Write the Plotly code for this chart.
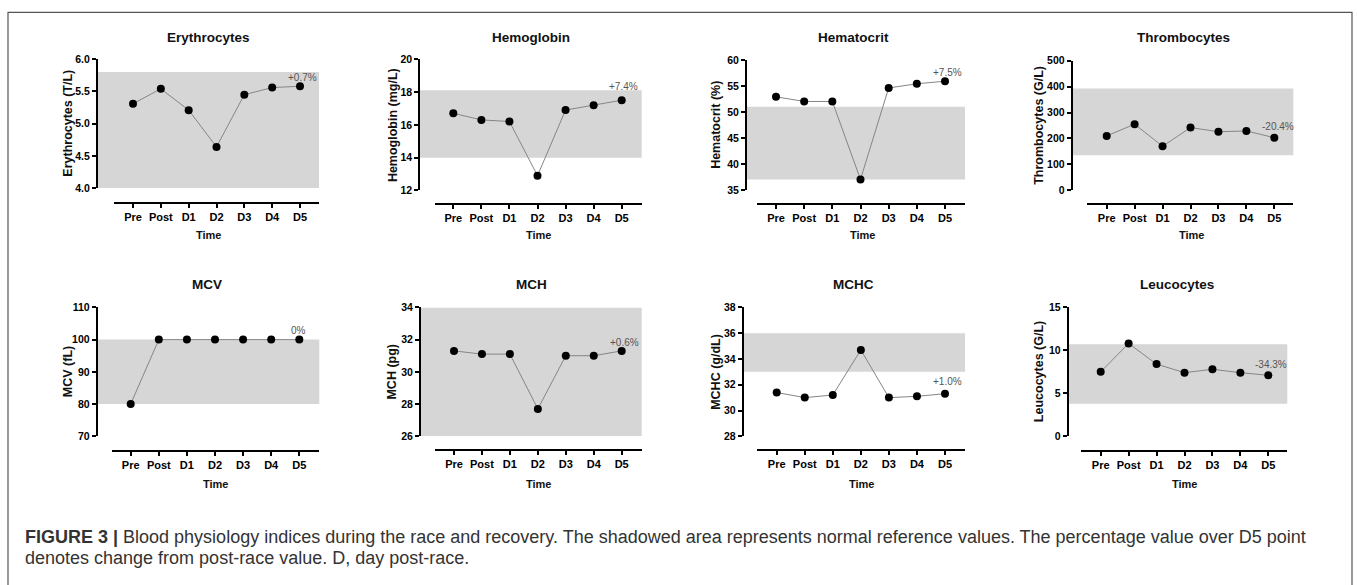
import plotly.graph_objects as go

# ---------------- data ----------------
categories = ["Pre", "Post", "D1", "D2", "D3", "D4", "D5"]

erythrocytes = [5.31, 5.54, 5.21, 4.64, 5.45, 5.56, 5.58]
hemoglobin = [16.7, 16.3, 16.2, 12.9, 16.9, 17.2, 17.5]
hematocrit = [52.9, 52.0, 52.0, 37.0, 54.6, 55.4, 55.9]
thrombocytes = [210, 255, 170, 242, 226, 229, 203]
mcv = [80, 100, 100, 100, 100, 100, 100]
mch = [31.3, 31.1, 31.1, 27.7, 31.0, 31.0, 31.3]
mchc = [31.4, 31.0, 31.2, 34.7, 31.0, 31.1, 31.3]
leucocytes = [7.5, 10.8, 8.4, 7.4, 7.8, 7.4, 7.1]

panel_titles = ["Erythrocytes", "Hemoglobin", "Hematocrit", "Thrombocytes",
                "MCV", "MCH", "MCHC", "Leucocytes"]
y_titles = ["Erythrocytes (T/L)", "Hemoglobin (mg/L)", "Hematocrit (%)", "Thrombocytes (G/L)",
            "MCV (fL)", "MCH (pg)", "MCHC (g/dL)", "Leucocytes (G/L)"]
series = [erythrocytes, hemoglobin, hematocrit, thrombocytes, mcv, mch, mchc, leucocytes]
ref_low = [4.0, 14.0, 37, 135, 80, 26, 33, 3.8]
ref_high = [5.8, 18.1, 51, 392, 100, 34, 36, 10.7]
y_min = [4.0, 12, 35, 0, 70, 26, 28, 0]
y_max = [6.0, 20, 60, 500, 110, 34, 38, 15]
y_step = [0.5, 2, 5, 100, 10, 2, 2, 5]
y_fmt = [".1f", "d", "d", "d", "d", "d", "d", "d"]
d5_change = ["+0.7%", "+7.4%", "+7.5%", "-20.4%", "0%", "+0.6%", "+1.0%", "-34.3%"]
x_title = "Time"
caption_lines = [
    "<b>FIGURE 3 |</b> Blood physiology indices during the race and recovery. "
    "The shadowed area represents normal reference values. The percentage value over D5 point",
    "denotes change from post-race value. D, day post-race.",
]

# ---------------- layout geometry (pixels) ----------------
W, H = 1357, 585
yax_x = [97, 419.3, 746, 1071.7, 96.7, 420, 742.7, 1067.7]
y_top_px = [54.3, 54.3, 55, 55.7, 307.7, 307.7, 307.7, 307.7]
y_bot_px = [186, 188.3, 187.7, 188.3, 439.3, 439.3, 439.3, 439.3]
xax_y = [200.7, 201.7, 201.7, 202.3, 454, 453.3, 453.3, 454]
xax_start = [114, 435, 757.3, 1087.3, 111.7, 435, 757.3, 1081]
xax_end = [319, 641.7, 965, 1293.3, 319.3, 641.7, 965, 1287.3]
pre_px = [133, 453.3, 776, 1106.7, 130.7, 454, 776.7, 1100.7]
d5_px = [300, 621.7, 945, 1274.3, 299.3, 621.7, 945, 1268.3]
title_x = [208, 530.7, 853.8, 1183.5, 207, 531.7, 853.3, 1177]
title_y = [32.5, 32.5, 32.5, 32.5, 284, 284, 284, 284]
time_x = [208.8, 538, 862.5, 1191.3, 215, 538.8, 861.7, 1184.7]
time_y = [234, 234, 234, 234, 487.7, 487.7, 487.7, 487.7]
ytitle_x = [68, 393.3, 716, 1039.3, 68.3, 391.7, 716, 1039.3]
pct_shift_y = [8.7, 14, 9, 11, 9.6, 8.7, 12, 11]
pct_shift_x = [2, 2, 3, 3.5, -0.5, 2.6, 3, 2.4]
caption_y = [542.5, 564]

FONT = "Liberation Sans, Arial, Helvetica, sans-serif"


def px(v):
    return v / W


def py(v):
    return 1 - v / H


fig = go.Figure()
layout = dict(
    width=W, height=H,
    margin=dict(l=0, r=0, t=0, b=0),
    paper_bgcolor="white", plot_bgcolor="rgba(0,0,0,0)",
    showlegend=False,
    font=dict(family=FONT, color="#000"),
)
shapes = []
annotations = []

for i in range(8):
    n = i + 1
    xa = "x" if n == 1 else f"x{n}"
    ya = "y" if n == 1 else f"y{n}"
    unit = (d5_px[i] - pre_px[i]) / 6
    xlo = -(pre_px[i] - xax_start[i]) / unit
    xhi = 6 + (xax_end[i] - d5_px[i]) / unit

    fig.add_trace(go.Scatter(
        x=categories, y=series[i], xaxis=xa, yaxis=ya,
        mode="lines+markers",
        line=dict(color="#858585", width=1),
        marker=dict(color="#000", size=8),
        cliponaxis=False, hoverinfo="skip",
    ))

    yticks = []
    v = y_min[i]
    while v <= y_max[i] + 1e-9:
        yticks.append(round(v, 6))
        v += y_step[i]

    layout[f"xaxis{'' if n == 1 else n}"] = dict(
        domain=[px(xax_start[i]), px(xax_end[i])],
        anchor="free", position=py(xax_y[i]), side="bottom",
        type="category", categoryorder="array", categoryarray=categories,
        range=[xlo, xhi],
        showline=True, linecolor="#000", linewidth=2,
        ticks="outside", ticklen=4, tickwidth=1.5, tickcolor="#000",
        showgrid=False, zeroline=False, fixedrange=True,
        tickfont=dict(size=11, family=FONT, weight="bold", color="#000"),
    )
    layout[f"yaxis{'' if n == 1 else n}"] = dict(
        domain=[py(y_bot_px[i]), py(y_top_px[i])],
        anchor="free", position=px(yax_x[i]), side="left",
        range=[y_min[i], y_max[i]],
        tickmode="array", tickvals=yticks,
        ticktext=[format(t, y_fmt[i]) if y_fmt[i] != "d" else str(int(round(t))) for t in yticks],
        showline=True, linecolor="#000", linewidth=2,
        ticks="outside", ticklen=4, tickwidth=1.5, tickcolor="#000",
        showgrid=False, zeroline=False, fixedrange=True,
        tickfont=dict(size=10.5, family=FONT, weight="bold", color="#000"),
    )

    # reference band
    shapes.append(dict(
        type="rect", xref="paper", yref=ya,
        x0=px(yax_x[i]), x1=px(xax_end[i]),
        y0=ref_low[i], y1=ref_high[i],
        fillcolor="#d6d6d6", line=dict(width=0), layer="below",
    ))

    # panel title
    annotations.append(dict(
        text=f"<b>{panel_titles[i]}</b>", x=px(title_x[i]), y=py(title_y[i]),
        xref="paper", yref="paper", xanchor="center", yanchor="middle",
        showarrow=False, font=dict(size=13.5, family=FONT, color="#111"),
    ))
    # y-axis title
    annotations.append(dict(
        text=f"<b>{y_titles[i]}</b>", x=px(ytitle_x[i]),
        y=py((y_top_px[i] + y_bot_px[i]) / 2),
        xref="paper", yref="paper", xanchor="center", yanchor="middle",
        textangle=-90, showarrow=False, font=dict(size=12.5, family=FONT, color="#111"),
    ))
    # x-axis title
    annotations.append(dict(
        text=f"<b>{x_title}</b>", x=px(time_x[i]), y=py(time_y[i]),
        xref="paper", yref="paper", xanchor="center", yanchor="middle",
        showarrow=False, font=dict(size=11, family=FONT, color="#111"),
    ))
    # percentage change label above D5
    annotations.append(dict(
        text=d5_change[i], x=categories[-1], y=series[i][-1],
        xref=xa, yref=ya, xanchor="center", yanchor="middle",
        xshift=pct_shift_x[i], yshift=pct_shift_y[i],
        showarrow=False, font=dict(size=10, family=FONT, color="#555"),
    ))

# caption
for k, line in enumerate(caption_lines):
    annotations.append(dict(
        text=line, x=px(23), y=py(caption_y[k]), xref="paper", yref="paper",
        xanchor="left", yanchor="middle", align="left", showarrow=False,
        font=dict(size=18, family=FONT, color="#333"),
    ))

# outer frame
shapes.append(dict(
    type="rect", xref="paper", yref="paper",
    x0=px(8), x1=px(1352), y0=-0.2, y1=py(6.5),
    line=dict(color="#555", width=1.2), fillcolor="rgba(0,0,0,0)", layer="above",
))

layout["shapes"] = shapes
layout["annotations"] = annotations
fig.update_layout(**layout)
fig.write_html("out.html")
